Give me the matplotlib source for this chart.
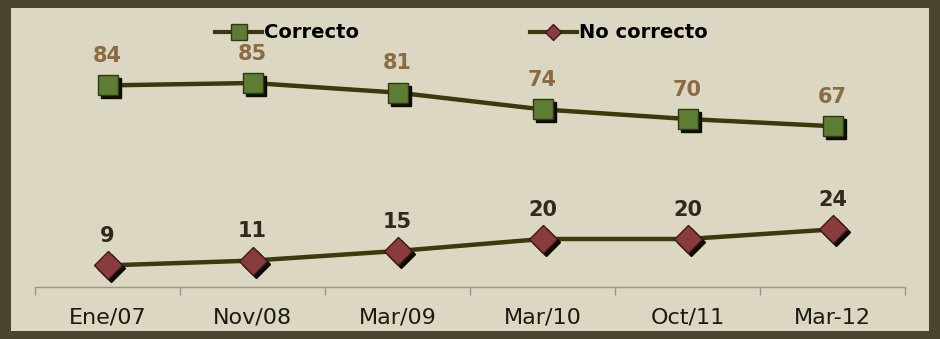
import matplotlib.pyplot as plt
from matplotlib.patches import Rectangle
from matplotlib.transforms import offset_copy

# series data
periods = ["Ene/07", "Nov/08", "Mar/09", "Mar/10", "Oct/11", "Mar-12"]
correcto = [84, 85, 81, 74, 70, 67]
no_correcto = [9, 11, 15, 20, 20, 24]

W, H, DPI = 940, 339, 100
BORDER = "#4b4431"
PANEL = "#dcd7c3"
LINE = "#3c3a0b"

plt.rcParams["font.family"] = ["DejaVu Sans"]

fig = plt.figure(figsize=(W / DPI, H / DPI), dpi=DPI, facecolor=BORDER)
# light inner panel inside the dark frame
fig.patches.append(Rectangle((11 / W, 8 / H), (929 - 11) / W, (331 - 8) / H,
                             transform=fig.transFigure, facecolor=PANEL,
                             edgecolor="none", zorder=-5))

ax = fig.add_axes([35 / W, (H - 287) / H, (905 - 35) / W, (287 - 10) / H])
ax.set_zorder(5)
ax.set_facecolor("none")
x = list(range(len(periods)))
ax.set_xlim(-0.5, len(periods) - 0.5)
ax.set_ylim(0, 277 / 2.4)

shadow = offset_copy(ax.transData, fig=fig, x=3, y=-3, units="dots")

# Correcto
ax.plot(x, correcto, color=LINE, lw=3.2, zorder=2)
ax.plot(x, correcto, ls="none", marker="s", ms=14, color="#0d0c04",
        mec="#0d0c04", transform=shadow, zorder=3)
ax.plot(x, correcto, ls="none", marker="s", ms=14, mfc="#5d7d34",
        mec="#2f3a14", mew=1, zorder=4)
(h1,) = ax.plot([], [], color=LINE, lw=3, marker="s", ms=11,
                mfc="#5d7d34", mec="#2f3a14")

# No correcto
ax.plot(x, no_correcto, color=LINE, lw=3.2, zorder=2)
ax.plot(x, no_correcto, ls="none", marker="D", ms=14, color="#0d0c04",
        mec="#0d0c04", transform=shadow, zorder=3)
ax.plot(x, no_correcto, ls="none", marker="D", ms=14, mfc="#8a3b3e",
        mec="#3e1a1a", mew=1, zorder=4)
(h2,) = ax.plot([], [], color=LINE, lw=3, marker="D", ms=8,
                mfc="#8a3b3e", mec="#3e1a1a")

for xi, v in zip(x, correcto):
    ax.annotate(str(v), (xi, v), xytext=(0, 14), textcoords="offset points",
                ha="center", va="bottom", fontsize=15, fontweight="bold",
                color="#8a6b42")
for xi, v in zip(x, no_correcto):
    ax.annotate(str(v), (xi, v), xytext=(0, 14), textcoords="offset points",
                ha="center", va="bottom", fontsize=15, fontweight="bold",
                color="#2e2b1c")

ax.legend([h1, h2], ["Correcto", "No correcto"], ncol=2, frameon=False,
          loc="upper center", bbox_to_anchor=(0.49, 1.015),
          prop={"size": 14, "weight": "bold"}, handlelength=2.4,
          handletextpad=0.1, columnspacing=8.8)

# axis: only bottom spine with ticks between categories
for side in ("top", "left", "right"):
    ax.spines[side].set_visible(False)
ax.spines["bottom"].set_color("#9a968a")
ax.spines["bottom"].set_linewidth(1)
ax.set_yticks([])
ax.set_xticks([i - 0.5 for i in range(len(periods) + 1)])
ax.set_xticklabels([])
ax.set_xticks(x, minor=True)
ax.set_xticklabels(periods, minor=True, fontsize=16, color="#1c1a12")
ax.tick_params(axis="x", which="major", length=6, width=1, color="#9a968a",
               direction="out")
ax.tick_params(axis="x", which="minor", length=0, pad=15)

fig.savefig("out.png", dpi=DPI, facecolor=BORDER)
